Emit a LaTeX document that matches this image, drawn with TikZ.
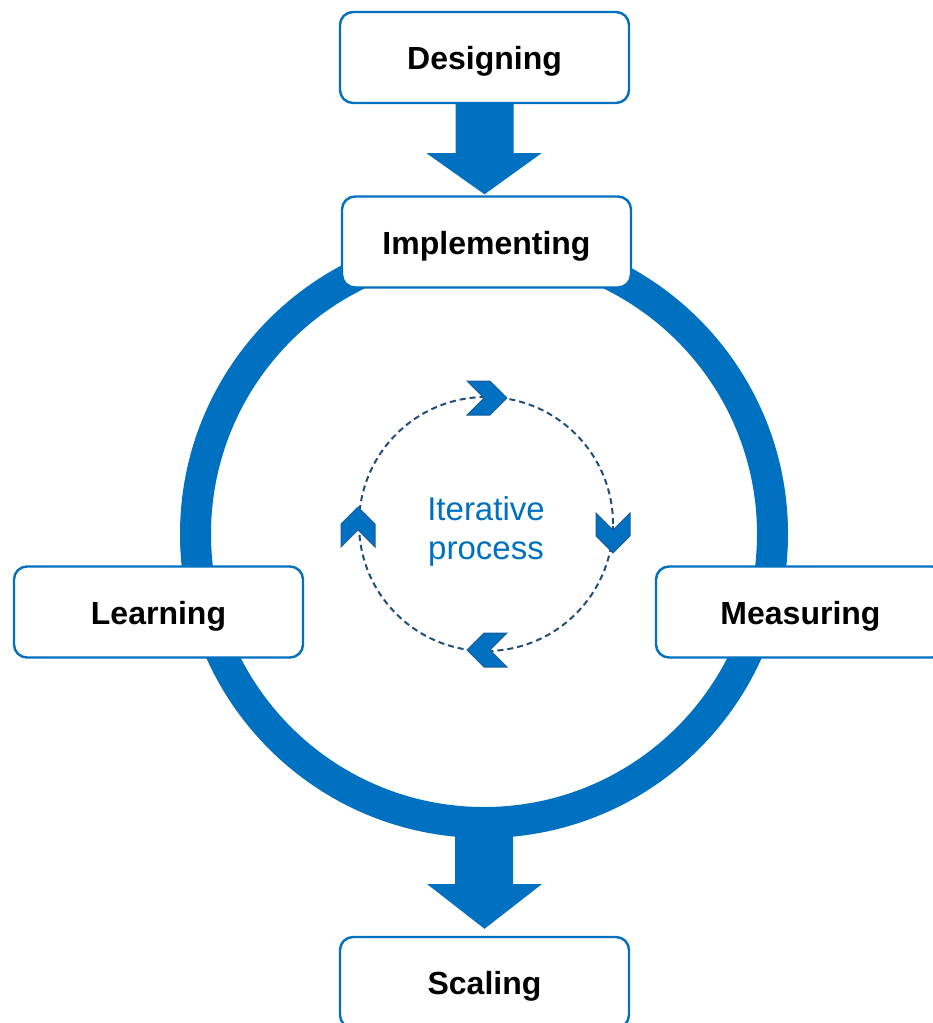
\documentclass[tikz,border=0pt]{standalone}
\usepackage{fontspec}
\setmainfont{Liberation Sans}
\usetikzlibrary{calc}
\definecolor{mainblue}{HTML}{0070C0}
\definecolor{darkblue}{HTML}{1F4E79}
\definecolor{chevedge}{HTML}{1F5C99}
\begin{document}
\begin{tikzpicture}[x=1pt,y=-1pt,
  stagebox/.style={draw=mainblue, line width=2.4pt, fill=white, rounded corners=13pt,
    minimum width=289pt, minimum height=91pt, inner sep=0pt,
    text height=31pt, text depth=7pt,
    font=\fontsize{32}{36}\selectfont\bfseries},
  blockarrow/.style={fill=mainblue, draw=none},
  pics/chevron/.style={code={
    \path[fill=mainblue, draw=chevedge, line width=1pt, line join=miter]
      (-20,-17) -- (3,-17) -- (20,0) -- (3,17) -- (-20,17) -- (-3,0) -- cycle;}}
]
\useasboundingbox (0,0) rectangle (933,1023);

% outer cycle ring
\node[circle, draw=mainblue, line width=31pt, minimum size=577pt, inner sep=0pt] (ring) at (484,534) {};

% inner dashed loop
\node[circle, draw=darkblue, line width=2pt, dash pattern=on 6pt off 4pt,
      minimum size=254pt, inner sep=0pt] (loop) at (486,524) {};
\node[align=center, text=mainblue, font=\fontsize{33}{39}\selectfont] (iter) at (486,531) {Iterative\\process};

% direction markers on the loop (clockwise)
\pic at (487,398) {chevron};
\pic[rotate=-90] at (613,533) {chevron};
\pic[rotate=180] at (487,650) {chevron};
\pic[rotate=90] at (358,527) {chevron};

% stages
\node[stagebox] (des) at (484.5,57.5) {Designing};
\node[stagebox] (imp) at (486.5,242) {Implementing};
\node[stagebox] (lea) at (158.5,612) {Learning};
\node[stagebox] (mea) at (800.5,612) {Measuring};
\node[stagebox] (sca) at (484.5,982.5) {Scaling};

% block arrows
\path[blockarrow]
  ($(des.south)+(-29,0)$) -- ($(des.south)+(29,0)$) -- ($(des.south)+(29,49)$)
  -- ($(des.south)+(57,49)$) -- ($(imp.north)+(-2,-1)$) -- ($(des.south)+(-58,49)$)
  -- ($(des.south)+(-29,49)$) -- cycle;
\path[blockarrow]
  ($(ring.south)+(-29,-2)$) -- ($(ring.south)+(29,-2)$) -- ($(ring.south)+(29,46)$)
  -- ($(ring.south)+(58,46)$) -- ($(sca.north)+(0,-7)$) -- ($(ring.south)+(-57,46)$)
  -- ($(ring.south)+(-29,46)$) -- cycle;
\end{tikzpicture}
\end{document}
